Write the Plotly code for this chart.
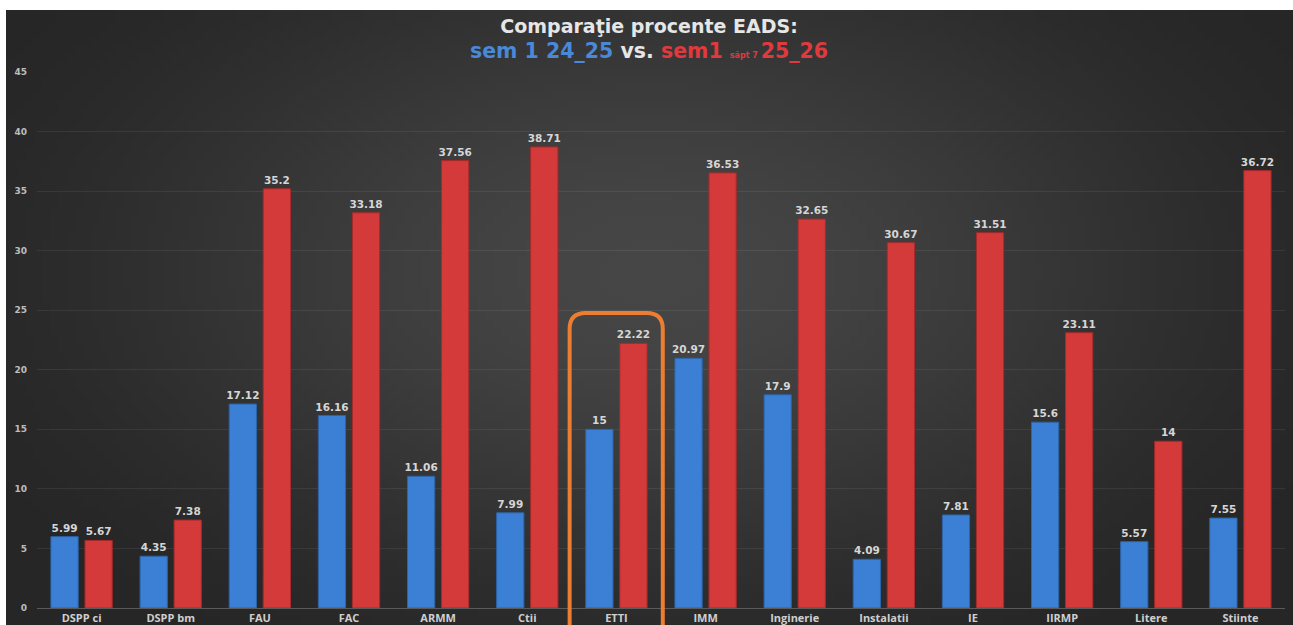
import base64
import math
import struct
import zlib

import plotly.graph_objects as go

categories = ["DSPP ci", "DSPP bm", "FAU", "FAC", "ARMM", "Ctii", "ETTI", "IMM",
              "Inginerie", "Instalatii", "IE", "IIRMP", "Litere", "Stiinte"]
sem1_2425 = [5.99, 4.35, 17.12, 16.16, 11.06, 7.99, 15, 20.97, 17.9, 4.09, 7.81, 15.6, 5.57, 7.55]
sem1_2526 = [5.67, 7.38, 35.2, 33.18, 37.56, 38.71, 22.22, 36.53, 32.65, 30.67, 31.51, 23.11, 14, 36.72]
y_ticks = [0, 5, 10, 15, 20, 25, 30, 35, 40, 45]
highlight = "ETTI"

W, H = 1293, 625
ML, MR, MT, MB = 37, 8, 72, 17
PW, PH = W - ML - MR, H - MT - MB


def px_x(p):
    return (p - ML) / PW


def px_y(p):
    return (H - MB - p) / PH


def gradient_png(w, h, edge=38, center=70):
    """Small radial-gradient background image (dark vignette)."""
    rows = b""
    for j in range(h):
        row = bytearray([0])
        for i in range(w):
            dx = (i + 0.5) / w - 0.5
            dy = (j + 0.5) / h - 0.42
            r = math.sqrt((dx / 0.62) ** 2 + (dy / 0.75) ** 2)
            f = max(0.0, 1.0 - r)
            f = f * f * (3 - 2 * f)
            v = int(round(edge + (center - edge) * f))
            row += bytes([v, v, v])
        rows += bytes(row)

    def chunk(tag, data):
        c = struct.pack(">I", len(data)) + tag + data
        return c + struct.pack(">I", zlib.crc32(tag + data) & 0xffffffff)

    png = b"\x89PNG\r\n\x1a\n"
    png += chunk(b"IHDR", struct.pack(">IIBBBBB", w, h, 8, 2, 0, 0, 0))
    png += chunk(b"IDAT", zlib.compress(rows, 9))
    png += chunk(b"IEND", b"")
    return "data:image/png;base64," + base64.b64encode(png).decode()


FONT = "Open Sans, DejaVu Sans, sans-serif"
WIDE = "DejaVu Sans, Verdana, sans-serif"
label_font = dict(family=WIDE, size=10.5, color="#d6d6d6", weight="bold")

fig = go.Figure()
fig.add_trace(go.Bar(
    x=categories, y=sem1_2425, name="sem 1 24_25",
    marker=dict(color="#3b80d4", line=dict(color="#2c64a8", width=1)),
    text=[f"{v:g}" for v in sem1_2425], textposition="outside",
    textfont=label_font, cliponaxis=False, constraintext="none",
))
fig.add_trace(go.Bar(
    x=categories, y=sem1_2526, name="sem1 25_26",
    marker=dict(color="#d43a3a", line=dict(color="#a82a2a", width=1)),
    text=[f"{v:g}" for v in sem1_2526], textposition="outside",
    textfont=label_font, cliponaxis=False, constraintext="none",
))

shapes = []
# orange highlight rounded rectangle around the highlighted category
idx = categories.index(highlight)
n = len(categories)
hx0 = (idx + 0.5 - 0.525) / n
hx1 = (idx + 0.5 + 0.52) / n
hy1 = px_y(313)
hy0 = px_y(H + 30)
rx = 16 / PW
ry = 16 / PH
path = (f"M {hx0},{hy0} L {hx0},{hy1 - ry} Q {hx0},{hy1} {hx0 + rx},{hy1} "
        f"L {hx1 - rx},{hy1} Q {hx1},{hy1} {hx1},{hy1 - ry} L {hx1},{hy0}")
shapes.append(dict(type="path", xref="paper", yref="paper", path=path,
                   line=dict(color="#ed7d31", width=4), layer="above"))

title_html = (
    "<b><span style='color:#e6e6e6'>Comparaţie procente EADS:</span></b><br>"
    "<b><span style='color:#4a88d8;font-size:20.5px'>sem 1 24_25</span>"
    "<span style='color:#e6e6e6;font-size:20.5px'> vs. </span>"
    "<span style='color:#e0393e;font-size:20.5px'>sem1 </span>"
    "<span style='color:#e0393e;font-size:8px'>săpt 7 </span>"
    "<span style='color:#e0393e;font-size:20.5px'>25_26</span></b>"
)

fig.update_layout(
    width=W, height=H,
    margin=dict(l=ML, r=MR, t=MT, b=MB, autoexpand=False),
    paper_bgcolor="white",
    plot_bgcolor="rgba(0,0,0,0)",
    showlegend=False,
    barmode="group",
    bargap=0.236,
    bargroupgap=0.2,
    shapes=shapes,
    images=[dict(
        source=gradient_png(160, 80), xref="paper", yref="paper",
        x=px_x(6), y=px_y(10), sizex=(W + 4 - 6) / PW, sizey=(H + 10 - 10) / PH,
        xanchor="left", yanchor="top", sizing="stretch", layer="below",
    )],
    annotations=[dict(
        text=title_html, xref="paper", yref="paper",
        x=px_x(649), y=px_y(39), xanchor="center", yanchor="middle",
        showarrow=False, align="center",
        font=dict(family=WIDE, size=19, color="#e6e6e6"),
    )],
    font=dict(family=FONT),
)
fig.update_xaxes(
    type="category", showgrid=False, showline=True, linecolor="#5a5a5a", linewidth=1,
    tickfont=dict(family=FONT, size=11, color="#cfcfcf", weight="bold"),
    ticks="", zeroline=False, automargin=False, fixedrange=True,
)
fig.update_yaxes(
    range=[0, 45], tickvals=y_ticks, showgrid=True, gridcolor="rgba(255,255,255,0.07)",
    gridwidth=1, zeroline=False, showline=False, ticks="", ticklabelstandoff=9,
    tickfont=dict(family=WIDE, size=9, color="#bdbdbd", weight="bold"),
    automargin=False, fixedrange=True,
)

fig.write_html("out.html", config={"displayModeBar": False},
               post_script="document.body.style.margin='0px';")
